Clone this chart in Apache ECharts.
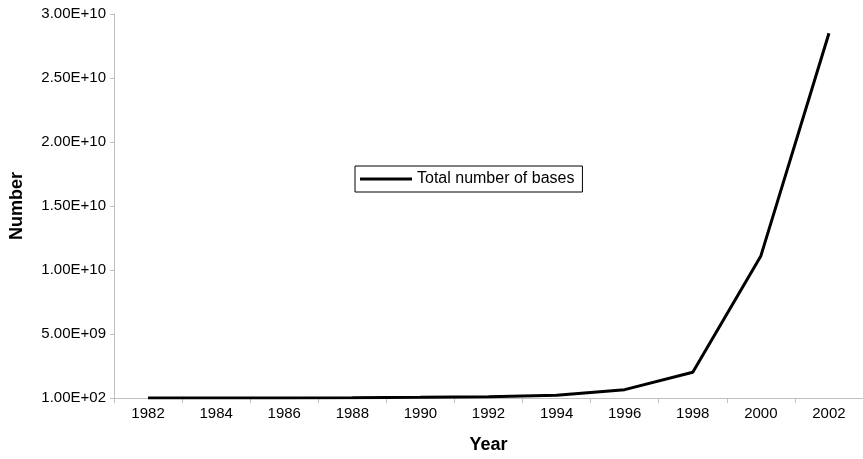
<!DOCTYPE html>
<html>
<head>
<meta charset="utf-8">
<script src="https://cdn.jsdelivr.net/npm/echarts@6/dist/echarts.min.js"></script>
<style>html,body{margin:0;padding:0;background:#fff;}#c{width:863px;height:459px;}</style>
</head>
<body>
<div id="c"></div>
<script>
const years = ['1982','1984','1986','1988','1990','1992','1994','1996','1998','2000','2002'];
const totalBases = [680000, 3370000, 9600000, 24000000, 49000000, 101000000, 217000000, 652000000, 2010000000, 11100000000, 28500000000];
const seriesName = 'Total number of bases';
const xTitle = 'Year';
const yTitle = 'Number';

function fmt(v) {
  const parts = v.toExponential(2).split('e');
  let e = parseInt(parts[1], 10);
  const sign = e < 0 ? '-' : '+';
  e = Math.abs(e);
  return parts[0] + 'E' + sign + (e < 10 ? '0' + e : '' + e);
}

const font = 'Liberation Sans, Arial, sans-serif';
const chart = echarts.init(document.getElementById('c'));
chart.setOption({
  animation: false,
  backgroundColor: '#fff',
  textStyle: { fontFamily: font },
  grid: { left: 110, right: -2, top: 14, bottom: 55 },
  legend: {
    left: 355, top: 166,
    padding: [5, 8, 5, 5],
    borderColor: '#000', borderWidth: 1,
    icon: 'rect', itemWidth: 52, itemHeight: 3,
    textStyle: { fontFamily: font, fontSize: 16, color: '#000' },
    data: [seriesName]
  },
  xAxis: {
    type: 'category',
    data: years,
    boundaryGap: true,
    name: xTitle,
    nameLocation: 'middle',
    nameGap: 38,
    nameTextStyle: { fontFamily: font, fontSize: 18, fontWeight: 'bold', color: '#000' },
    axisLine: { lineStyle: { color: '#c0c0c0', width: 1 } },
    axisTick: { show: true, length: 5, alignWithLabel: false, lineStyle: { color: '#c0c0c0' } },
    axisLabel: { fontFamily: font, fontSize: 15, color: '#000', margin: 8 },
    splitLine: { show: false }
  },
  yAxis: {
    type: 'value',
    min: 100,
    max: 30000000100,
    interval: 5000000000,
    name: yTitle,
    nameLocation: 'middle',
    nameGap: 88,
    nameRotate: 90,
    nameTextStyle: { fontFamily: font, fontSize: 18, fontWeight: 'bold', color: '#000' },
    axisLine: { show: true, lineStyle: { color: '#c0c0c0', width: 1 } },
    axisTick: { show: true, length: 4, lineStyle: { color: '#c0c0c0' } },
    axisLabel: { fontFamily: font, fontSize: 15, color: '#000', margin: 8, formatter: fmt },
    splitLine: { show: false }
  },
  series: [{
    name: seriesName,
    type: 'line',
    data: totalBases,
    symbol: 'none',
    lineStyle: { color: '#000', width: 3 },
    itemStyle: { color: '#000' }
  }]
});
</script>
</body>
</html>
